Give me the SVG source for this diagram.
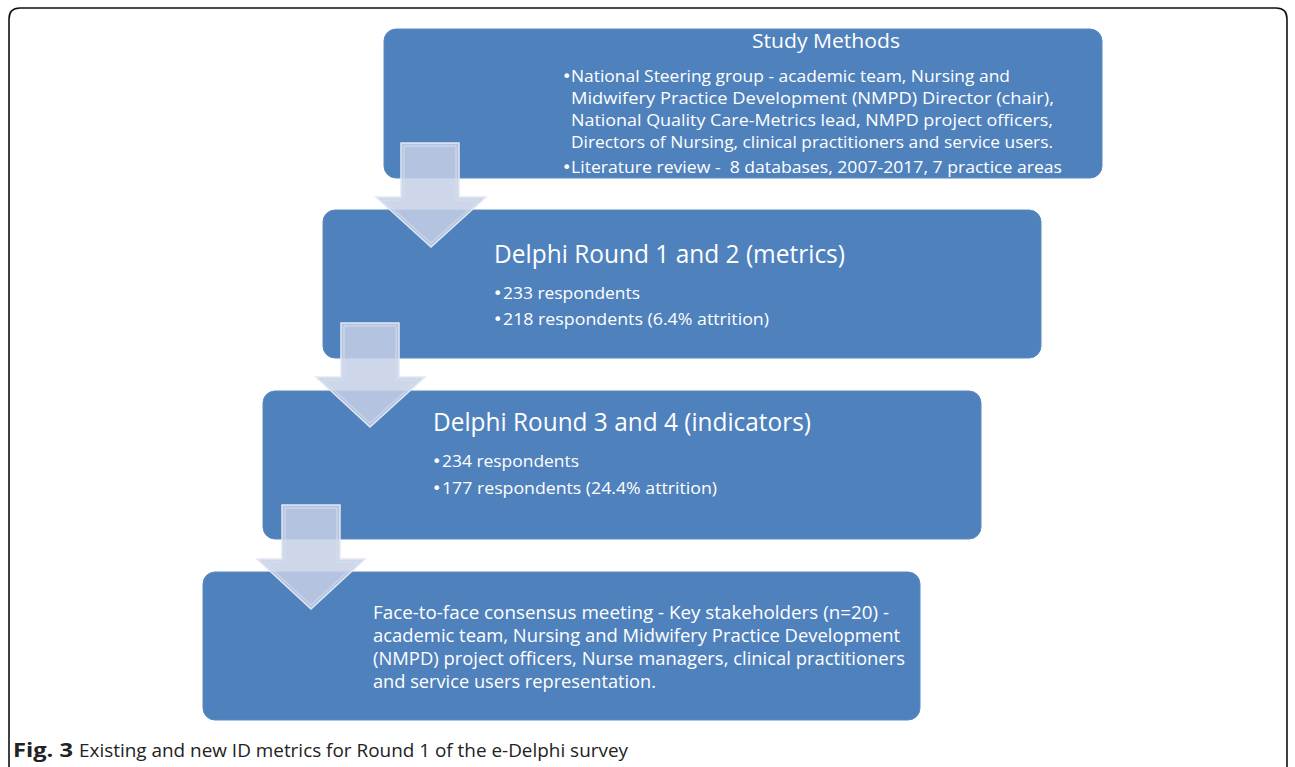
<svg xmlns="http://www.w3.org/2000/svg" width="1295" height="767" viewBox="0 0 1295 767">
  <style>
    .box { fill: #4F81BD; stroke: #5A8AC2; stroke-width: 1; }
    .t { fill: #FFFFFF; font-family: "Open Sans", "Liberation Sans", sans-serif; }
    .b { fill: #FFFFFF; font-family: "DejaVu Sans", sans-serif; font-size: 16px; }
    .arrow { fill: #C5D0E6; fill-opacity: 0.85; stroke: #E2E8F3; stroke-width: 1.5; }
    .arrowIn { fill: none; stroke: #D5DDEE; stroke-width: 1; }
    .cap { fill: #222222; font-family: "Open Sans", "Liberation Sans", sans-serif; }
  </style>
  <rect x="0" y="0" width="1295" height="767" fill="#FFFFFF"/>
  <path d="M 9 775 L 9 19 Q 9 8 20 8 L 1276 8 Q 1287 8 1287 19 L 1287 775" fill="none" stroke="#111111" stroke-width="1.6"/>

  <g id="node-study-methods">
    <rect class="box" x="384" y="29" width="718" height="149" rx="12"/>
    <text class="t" x="752" y="48" font-size="20" textLength="148" lengthAdjust="spacingAndGlyphs">Study Methods</text>
    <text class="b" x="562" y="82">•</text>
    <text class="t" x="571" y="82" font-size="17" textLength="439" lengthAdjust="spacingAndGlyphs">National Steering group - academic team, Nursing and</text>
    <text class="t" x="571" y="104" font-size="17" textLength="483" lengthAdjust="spacingAndGlyphs">Midwifery Practice Development (NMPD) Director (chair),</text>
    <text class="t" x="571" y="126" font-size="17" textLength="482" lengthAdjust="spacingAndGlyphs">National Quality Care-Metrics lead, NMPD project officers,</text>
    <text class="t" x="571" y="148" font-size="17" textLength="482" lengthAdjust="spacingAndGlyphs">Directors of Nursing, clinical practitioners and service users.</text>
    <text class="b" x="562" y="173">•</text>
    <text class="t" x="571" y="173" font-size="17" textLength="491" lengthAdjust="spacingAndGlyphs" xml:space="preserve">Literature review -  8 databases, 2007-2017, 7 practice areas</text>
  </g>

  <g id="node-delphi-1-2">
    <rect class="box" x="323" y="210" width="718" height="148" rx="12"/>
    <text class="t" x="494" y="263" font-size="25" textLength="351" lengthAdjust="spacingAndGlyphs">Delphi Round 1 and 2 (metrics)</text>
    <text class="b" x="493" y="299">•</text>
    <text class="t" x="503" y="299" font-size="17" textLength="137" lengthAdjust="spacingAndGlyphs">233 respondents</text>
    <text class="b" x="493" y="325">•</text>
    <text class="t" x="503" y="325" font-size="17" textLength="266" lengthAdjust="spacingAndGlyphs">218 respondents (6.4% attrition)</text>
  </g>

  <g id="node-delphi-3-4">
    <rect class="box" x="263" y="391" width="718" height="148" rx="12"/>
    <text class="t" x="433" y="431" font-size="25" textLength="378" lengthAdjust="spacingAndGlyphs">Delphi Round 3 and 4 (indicators)</text>
    <text class="b" x="432" y="467">•</text>
    <text class="t" x="442" y="467" font-size="17" textLength="137" lengthAdjust="spacingAndGlyphs">234 respondents</text>
    <text class="b" x="432" y="494">•</text>
    <text class="t" x="442" y="494" font-size="17" textLength="275" lengthAdjust="spacingAndGlyphs">177 respondents (24.4% attrition)</text>
  </g>

  <g id="node-consensus">
    <rect class="box" x="203" y="572" width="717" height="148" rx="12"/>
    <text class="t" x="373" y="619" font-size="18" textLength="516" lengthAdjust="spacingAndGlyphs">Face-to-face consensus meeting - Key stakeholders (n=20) -</text>
    <text class="t" x="373" y="642" font-size="18" textLength="527" lengthAdjust="spacingAndGlyphs">academic team, Nursing and Midwifery Practice Development</text>
    <text class="t" x="373" y="665" font-size="18" textLength="532" lengthAdjust="spacingAndGlyphs">(NMPD) project officers, Nurse managers, clinical practitioners</text>
    <text class="t" x="373" y="688" font-size="18" textLength="283" lengthAdjust="spacingAndGlyphs">and service users representation.</text>
  </g>

  <g id="connectors">
    <g id="arrow-1">
      <path class="arrow" d="M 401 143 L 459 143 L 459 197 L 486 197 L 431 247 L 376 197 L 401 197 Z"/>
      <path class="arrowIn" d="M 404 146 L 456 146 L 456 200 L 479 200 L 431 243 L 383 200 L 404 200 Z"/>
    </g>
    <g id="arrow-2">
      <path class="arrow" d="M 341 323 L 399 323 L 399 377 L 425 377 L 370 427 L 316 377 L 341 377 Z"/>
      <path class="arrowIn" d="M 344 326 L 396 326 L 396 380 L 418 380 L 370 423 L 323 380 L 344 380 Z"/>
    </g>
    <g id="arrow-3">
      <path class="arrow" d="M 282 505 L 340 505 L 340 559 L 365 559 L 311 609 L 257 559 L 282 559 Z"/>
      <path class="arrowIn" d="M 285 508 L 337 508 L 337 562 L 358 562 L 311 605 L 264 562 L 285 562 Z"/>
    </g>
  </g>

  <text class="cap" x="13" y="757" font-size="19"><tspan font-weight="bold" textLength="60" lengthAdjust="spacingAndGlyphs">Fig. 3</tspan><tspan x="79" textLength="549" lengthAdjust="spacingAndGlyphs">Existing and new ID metrics for Round 1 of the e-Delphi survey</tspan></text>
</svg>
